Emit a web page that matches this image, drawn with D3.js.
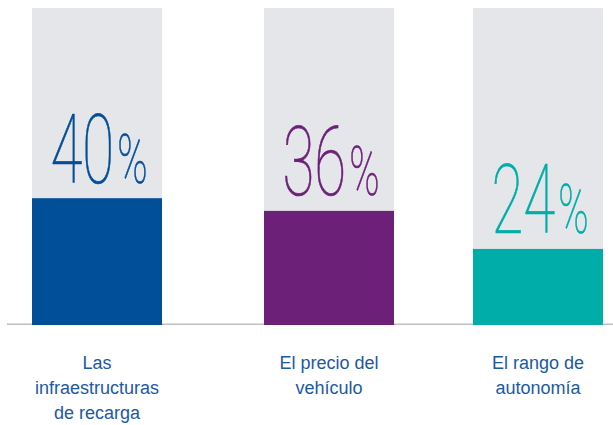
<!DOCTYPE html>
<html>
<head>
<meta charset="utf-8">
<script src="https://cdn.jsdelivr.net/npm/d3@7"></script>
<style>
  html, body { margin: 0; padding: 0; background: #fff; }
  svg { display: block; }
</style>
</head>
<body>
<svg id="chart" width="613" height="425"></svg>
<script>
const categories = ["infra", "precio", "rango"];
const labels = [
  ["Las", "infraestructuras", "de recarga"],
  ["El precio del", "vehículo"],
  ["El rango de", "autonomía"]
];
const values = [40, 36, 24];
const colors = ["#004f98", "#6d2077", "#00ada8"];

const svg = d3.select("#chart");
const width = 613,
  baseY = 325,
  topY = 8,
  colW = 130;

// columns are not evenly spaced in the original
const x = d3.scaleOrdinal().domain(categories).range([32, 264, 473]);
const y = d3.scaleLinear().domain([0, 100]).range([baseY, topY]);
const color = d3.scaleOrdinal().domain(categories).range(colors);

const data = categories.map((c, i) => ({ cat: c, value: values[i], label: labels[i] }));

// baseline
svg.append("line")
  .attr("x1", 7).attr("x2", width)
  .attr("y1", baseY - 0.7).attr("y2", baseY - 0.7)
  .attr("stroke", "#bfbfc4")
  .attr("stroke-width", 1.5);

// grey 100% columns
svg.append("g")
  .selectAll("rect")
  .data(data)
  .enter()
  .append("rect")
  .attr("x", d => x(d.cat))
  .attr("y", y(100))
  .attr("width", colW)
  .attr("height", y(0) - y(100) - 1.3)
  .attr("fill", "#e5e6ea");

// value bars
svg.append("g")
  .selectAll("rect")
  .data(data)
  .enter()
  .append("rect")
  .attr("x", d => x(d.cat))
  .attr("y", d => y(d.value))
  .attr("width", colW)
  .attr("height", d => y(0) - y(d.value))
  .attr("fill", d => color(d.cat));

// big percentages, thin and condensed
const sx = 0.6;
const big = svg.append("g")
  .selectAll("text")
  .data(data)
  .enter()
  .append("text")
  .attr("transform", d => `translate(${x(d.cat) + colW / 2 + 2}, ${y(d.value) - 15.5}) scale(${sx}, 1)`)
  .attr("text-anchor", "middle")
  .attr("fill", d => color(d.cat))
  .attr("stroke", d => color(d.cat))
  .attr("stroke-width", 0.7)
  .style("font-family", "Roboto, 'Liberation Sans', sans-serif")
  .style("font-weight", 100);
big.append("tspan")
  .style("font-size", "97px")
  .text(d => d.value);
big.append("tspan")
  .attr("dx", 5)
  .style("font-size", "68px")
  .text("%");

// category labels
const lab = svg.append("g")
  .selectAll("text")
  .data(data)
  .enter()
  .append("text")
  .attr("text-anchor", "middle")
  .attr("fill", "#1b59a3")
  .style("font-family", "'Liberation Sans', Arial, sans-serif")
  .style("font-size", "18px");
lab.selectAll("tspan")
  .data(d => d.label.map(t => ({ t, cx: x(d.cat) + colW / 2 })))
  .enter()
  .append("tspan")
  .attr("x", d => d.cx)
  .attr("y", (d, i) => 369 + i * 25)
  .text(d => d.t);
</script>
</body>
</html>
